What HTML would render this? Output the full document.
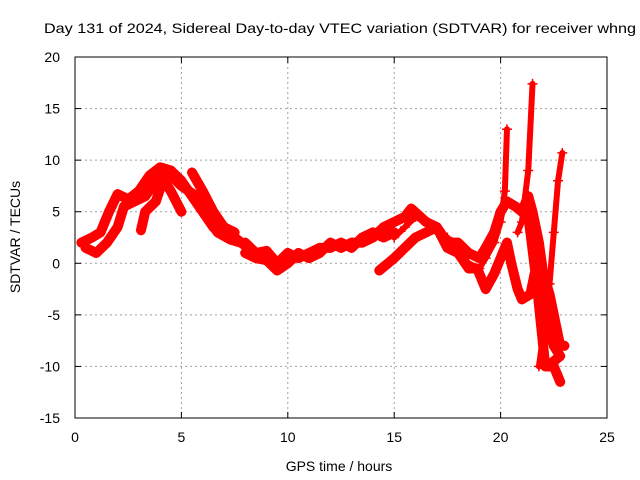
<!DOCTYPE html>
<html><head><meta charset="utf-8"><style>
body{margin:0;background:#fff}
svg{display:block;font-family:"Liberation Sans",sans-serif}
</style></head><body>
<svg id="c" width="640" height="480">
<text x="44" y="33" font-size="14" textLength="592" lengthAdjust="spacingAndGlyphs">Day 131 of 2024, Sidereal Day-to-day VTEC variation (SDTVAR) for receiver whng</text>
<text x="339" y="471" font-size="14" text-anchor="middle">GPS time / hours</text>
<text transform="translate(20,237) rotate(-90)" font-size="14" text-anchor="middle">SDTVAR / TECUs</text>
<g id="grid"></g><g id="data"></g><g id="axes"></g>
</svg>
<script>
const xTicks=[0,5,10,15,20,25];
const yTicks=[-15,-10,-5,0,5,10,15,20];
const track1=[[0.3,2],[0.8,2.5],[1.2,3],[1.6,5],[2,6.7],[2.5,6.2],[3,7],[3.5,8.5],[4,9.3],[4.5,9],[5,8],[5.5,6.5],[6,5],[6.5,3.5],[7,3.5],[7.5,3]];
const track2=[[0.5,1.5],[1,1],[1.5,2],[2,3.5],[2.3,5.5],[2.8,6],[3.3,6.5],[4,8.5],[4.5,7],[5,5]];
const track3=[[3.1,3.2],[3.3,5],[3.8,6],[4.2,8.5],[4.5,8.5],[5,7.5],[5.7,6.5],[6.2,4.5],[6.7,3],[7.3,2.3],[7.8,2]];
const track4=[[5.5,8.8],[6,7],[6.5,5],[7,3.5],[7.5,2.5],[8,1.7]];
const track5=[[8,2],[8.5,1],[9,1.2],[9.5,0],[10,1],[10.5,0.5],[11,1],[11.5,1.5],[12,1.5],[12.5,2],[13,1.5],[13.5,2.5],[14,3],[14.5,2.5],[15,3]];
const track5b=[[8,1],[8.5,0.5],[9,0.3],[9.5,-0.7],[10,0],[10.5,1],[11,0.5],[11.5,1],[12,2],[12.5,1.5],[13,2],[13.5,2],[14,2.5]];
const track6=[[14,2.5],[14.5,3.5],[15,4],[15.5,4.5],[15.8,5.3],[16.5,4],[17,3.5],[17.5,2],[18,2],[18.5,1],[19,0.5],[19.3,1.5],[19.7,3],[20,5],[20.3,6],[20.7,5.5],[21,5],[21.3,6.5],[21.5,5],[21.8,2],[22,-1],[22.3,-3],[22.5,-5],[22.8,-8],[23,-8]];
const track7=[[15,2.5],[15.5,3.5],[16,4.5],[16.5,4],[17,3],[17.5,2.5],[18,1],[18.5,0],[19,-0.5],[19.3,0.5],[19.7,2],[20,4],[20.2,7],[20.3,13]];
const track8=[[14.3,-0.7],[15,0.5],[15.5,1.5],[16,2.5],[16.5,3],[17,3.5],[17.5,1.5],[18,1],[18.5,-0.5],[18.9,-0.5],[19.3,-2.5],[19.7,-1],[20,0.5],[20.3,2],[20.5,0],[20.8,-2.5],[21,-3.5],[21.4,-3],[21.6,-1],[21.8,-2],[22,-4],[22.2,-6],[22.5,-8],[22.8,-9],[22.5,-9.5],[22.2,-10]];
const track9=[[20.8,3],[21,4],[21.3,9],[21.5,17.4]];
const track10=[[21.8,-10],[22,-7],[22.3,-2],[22.5,3],[22.7,8],[22.9,10.7]];
const track11=[[21.2,6],[21.4,3],[21.7,-2],[21.9,-6],[22.1,-10],[22.5,-10],[22.8,-11.5]];
const tracks=[track1,track2,track3,track4,track5,track5b,track6,track7,track8,track9,track10,track11];
const thinSet=[7,9,10];
const X0=75,X1=607,Y0=418,Y1=57;
const xs=v=>X0+(v-0)/25*(X1-X0);
const ys=v=>Y0-(v+15)/35*(Y0-Y1);
const NS='http://www.w3.org/2000/svg';
function mk(t,a,p){const e=document.createElementNS(NS,t);for(const k in a)e.setAttribute(k,a[k]);p.appendChild(e);return e;}
const grid=document.getElementById('grid'),axes=document.getElementById('axes'),data=document.getElementById('data');
xTicks.forEach(t=>{const x=xs(t);
 if(t>0&&t<25){const g=mk('line',{x1:x,x2:x,y1:Y1,y2:Y0,stroke:'#a0a0a0','stroke-dasharray':'2,3'},grid);}
 mk('line',{x1:x,x2:x,y1:Y0,y2:Y0-6,stroke:'#000'},axes);mk('line',{x1:x,x2:x,y1:Y1,y2:Y1+6,stroke:'#000'},axes);
 const l=mk('text',{x:x,y:Y0+24,'font-size':14,'text-anchor':'middle'},axes);l.textContent=t;
 });
yTicks.forEach(t=>{const y=ys(t);
 if(t>-15&&t<20){const g=mk('line',{x1:X0,x2:X1,y1:y,y2:y,stroke:'#a0a0a0','stroke-dasharray':'2,3'},grid);}
 mk('line',{x1:X0,x2:X0+6,y1:y,y2:y,stroke:'#000'},axes);mk('line',{x1:X1,x2:X1-6,y1:y,y2:y,stroke:'#000'},axes);
 const l=mk('text',{x:X0-15,y:y+5,'font-size':14,'text-anchor':'end'},axes);l.textContent=t;
 });
const fr=mk('rect',{x:X0,y:Y1,width:X1-X0,height:Y0-Y1,fill:'none',stroke:'#000'},axes);

tracks.forEach((tr,i)=>{
 const thin=thinSet.includes(i);
 const pl=mk('polyline',{points:tr.map(p=>xs(p[0])+','+ys(p[1])).join(' '),fill:'none',stroke:'#f00','stroke-width':thin?6:10,'stroke-linejoin':'round','stroke-linecap':'round'},data);
 
 
 tr.forEach(p=>{const x=xs(p[0]),y=ys(p[1]);
  const m=mk('path',{d:`M${x-5},${y}H${x+5}M${x},${y-5}V${y+5}`,stroke:'#f00','stroke-width':1.5},data);
  
  });
});
</script>
</body></html>
